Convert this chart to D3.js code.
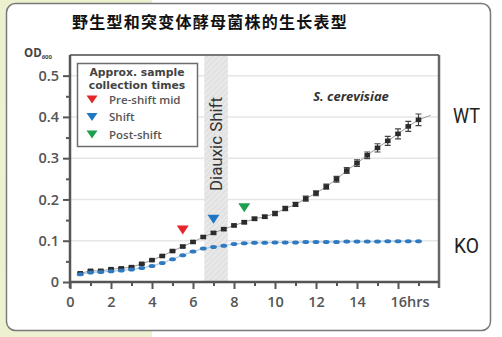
<!DOCTYPE html>
<html><head><meta charset="utf-8">
<script src="https://cdn.jsdelivr.net/npm/d3@7"></script>
<style>body{margin:0;background:#fff;}svg{display:block;}</style>
</head><body>
<script>
// ---- data ----
const hours = [0.5,1,1.5,2,2.5,3,3.5,4,4.5,5,5.5,6,6.5,7,7.5,8,8.5,9,9.5,10,10.5,11,11.5,12,12.5,13,13.5,14,14.5,15,15.5,16,16.5,17];
const wtOD = [0.021,0.027,0.027,0.031,0.033,0.036,0.044,0.053,0.063,0.075,0.086,0.097,0.109,0.119,0.128,0.137,0.145,0.153,0.158,0.166,0.178,0.188,0.202,0.215,0.231,0.249,0.270,0.288,0.307,0.325,0.342,0.359,0.377,0.393];
const wtErr = [0.002,0.002,0.002,0.002,0.002,0.002,0.002,0.002,0.002,0.002,0.003,0.003,0.003,0.003,0.003,0.003,0.004,0.004,0.004,0.005,0.005,0.005,0.006,0.006,0.006,0.007,0.007,0.008,0.008,0.010,0.011,0.012,0.012,0.014];
const koOD = [0.019,0.023,0.024,0.026,0.028,0.030,0.034,0.039,0.046,0.055,0.065,0.074,0.081,0.085,0.088,0.092,0.094,0.095,0.095,0.096,0.096,0.096,0.097,0.097,0.097,0.097,0.098,0.098,0.098,0.098,0.099,0.099,0.099,0.099];
const wtTrendEnd = [17.6, 0.404];
const legendTitle = ["Approx. sample", "collection times"];
const sampleLabels = ["Pre-shift mid","Shift","Post-shift"];
const sampleColors = ["#e4262b","#1f77c4","#1e9e4f"];
const sampleHours = [5.5, 7, 8.5];
const sampleOD = [0.126, 0.152, 0.180];
const shiftBand = [6.55, 7.7];
const xTicks = [0,2,4,6,8,10,12,14,16];
const xTickLabels = ["0","2","4","6","8","10","12","14","16hrs"];
const yTicks = [0,0.1,0.2,0.3,0.4,0.5];
const yTickLabels = ["0","0.1","0.2","0.3","0.4","0.5"];
const title = "野生型和突变体酵母菌株的生长表型";

// ---- layout ----
const W = 502, H = 337;
const svg = d3.select("body").append("svg").attr("width", W).attr("height", H);
const x = d3.scaleLinear().domain([0, 18]).range([70, 439]);
const y = d3.scaleLinear().domain([0, 0.55]).range([282, 55]);

svg.append("rect").attr("width", W).attr("height", H).attr("fill", "#fff");
svg.append("rect").attr("x", 0).attr("y", 0).attr("width", 152).attr("height", H).attr("fill", "#eef1cf");
svg.append("rect").attr("x", 6.5).attr("y", 3.5).attr("width", 484).attr("height", 327).attr("rx", 9)
  .attr("fill", "#fff").attr("stroke", "#7a7a7a").attr("stroke-width", 1.5);

// title
svg.append("text").attr("x", 72).attr("y", 28).text(title)
  .attr("font-family", "'Noto Sans CJK SC'").attr("font-weight", 700).attr("font-size", 16)
  .attr("letter-spacing", 1.25).attr("fill", "#111");

// hatch pattern
const defs = svg.append("defs");
const pat = defs.append("pattern").attr("id", "hatch").attr("patternUnits", "userSpaceOnUse")
  .attr("width", 4).attr("height", 4).attr("patternTransform", "rotate(45)");
pat.append("rect").attr("width", 4).attr("height", 4).attr("fill", "#e2e2e2");
pat.append("line").attr("x1", 0).attr("y1", 0).attr("x2", 0).attr("y2", 4).attr("stroke", "#f1f1f1").attr("stroke-width", 1.5);

// gridlines
svg.append("g").selectAll("line").data(yTicks.slice(1)).join("line")
  .attr("x1", x(0)).attr("x2", x(18)).attr("y1", d => y(d)).attr("y2", d => y(d))
  .attr("stroke", "#e6e6e6").attr("stroke-width", 1.5);

// diauxic band
svg.append("rect").attr("x", x(shiftBand[0])).attr("width", x(shiftBand[1]) - x(shiftBand[0]))
  .attr("y", y(0.55)).attr("height", y(0) - y(0.55)).attr("fill", "url(#hatch)");
const bandCx = (x(shiftBand[0]) + x(shiftBand[1])) / 2;
svg.append("text").attr("transform", `translate(${bandCx + 6},${y(0.55) + 136}) rotate(-90)`)
  .text("Diauxic Shift").attr("font-family", "Roboto").attr("font-size", 17).attr("fill", "#333")
  .attr("textLength", 94).attr("lengthAdjust", "spacingAndGlyphs");

// frame
svg.append("line").attr("x1", x(0)).attr("x2", x(18)).attr("y1", y(0.55)).attr("y2", y(0.55)).attr("stroke", "#777").attr("stroke-width", 2);
svg.append("line").attr("x1", x(18)).attr("x2", x(18)).attr("y1", y(0.55)).attr("y2", y(0) + 6).attr("stroke", "#666").attr("stroke-width", 2.5);

// axes
const xMajor = d3.axisBottom(x).tickValues(xTicks).tickSize(7).tickFormat((d, i) => xTickLabels[i]);
const xMinor = d3.axisBottom(x).tickValues([1,3,5,7,9,11,13,15,17]).tickSize(4).tickFormat("");
const yMajor = d3.axisLeft(y).tickValues(yTicks).tickSize(7).tickFormat((d, i) => yTickLabels[i]);
const yMinor = d3.axisLeft(y).tickValues([0.05,0.15,0.25,0.35,0.45]).tickSize(4).tickFormat("");
function styleAxis(g) {
  g.select(".domain").remove();
  g.selectAll(".tick line").attr("stroke", "#555").attr("stroke-width", 2);
  g.selectAll("text").attr("font-family", "'Open Sans'").attr("font-weight", 600).attr("font-size", 14.5).attr("fill", "#555");
}
const gx = svg.append("g").attr("transform", `translate(0,${y(0)})`).call(xMajor).call(styleAxis);
gx.selectAll("text").attr("dy", "1.05em");
gx.selectAll(".tick").filter(d => d === 16).select("text").attr("text-anchor", "start").attr("dx", -8);
svg.append("g").attr("transform", `translate(0,${y(0)})`).call(xMinor).call(styleAxis);
const gy = svg.append("g").attr("transform", `translate(${x(0)},0)`).call(yMajor).call(styleAxis);
gy.selectAll("text").attr("dx", -1);
svg.append("g").attr("transform", `translate(${x(0)},0)`).call(yMinor).call(styleAxis);
svg.append("line").attr("x1", x(0)).attr("x2", x(18)).attr("y1", y(0)).attr("y2", y(0)).attr("stroke", "#555").attr("stroke-width", 2.5);
svg.append("line").attr("x1", x(0)).attr("x2", x(0)).attr("y1", y(0.55)).attr("y2", y(0) + 6).attr("stroke", "#555").attr("stroke-width", 2.5);

// OD600 label
const od = svg.append("text").attr("x", 24).attr("y", 57).attr("font-family", "'Open Sans'").attr("font-weight", 700).attr("fill", "#444");
od.append("tspan").text("OD").attr("font-size", 11.5);
od.append("tspan").text("600").attr("font-size", 6).attr("dy", 2);

// WT line + trend
const wtPts = hours.map((h, i) => [h, wtOD[i]]);
const koPts = hours.map((h, i) => [h, koOD[i]]);
const line = d3.line().x(d => x(d[0])).y(d => y(d[1]));
svg.append("path").datum(wtPts.concat([wtTrendEnd])).attr("d", line).attr("fill", "none").attr("stroke", "#9a9a9a").attr("stroke-width", 1);
svg.append("path").datum(koPts).attr("d", line).attr("fill", "none").attr("stroke", "#a9cdee").attr("stroke-width", 1.2);

// WT error bars & markers
const wg = svg.append("g");
wg.selectAll("line.err").data(wtPts).join("line").attr("class", "err")
  .attr("x1", d => x(d[0])).attr("x2", d => x(d[0]))
  .attr("y1", (d, i) => y(d[1] + wtErr[i])).attr("y2", (d, i) => y(d[1] - wtErr[i]))
  .attr("stroke", "#444").attr("stroke-width", 1.2);
wg.selectAll("path.cap").data(wtPts).join("path").attr("class", "cap")
  .attr("d", (d, i) => {
    const cx = x(d[0]), t = y(d[1] + wtErr[i]), b = y(d[1] - wtErr[i]);
    return `M${cx - 3},${t}H${cx + 3}M${cx - 3},${b}H${cx + 3}`;
  }).attr("stroke", "#444").attr("stroke-width", 1.2);
wg.selectAll("rect").data(wtPts).join("rect")
  .attr("x", d => x(d[0]) - 2.8).attr("y", d => y(d[1]) - 2.3).attr("width", 5.6).attr("height", 4.6)
  .attr("fill", "#2b2b2b");

// KO markers
svg.append("g").selectAll("ellipse").data(koPts).join("ellipse")
  .attr("cx", d => x(d[0])).attr("cy", d => y(d[1])).attr("rx", 3.4).attr("ry", 2)
  .attr("fill", "#2f79bf");

// sample triangles in plot
const tri = (cx, cy, w, h) => `M${cx - w / 2},${cy - h / 2}L${cx + w / 2},${cy - h / 2}L${cx},${cy + h / 2}Z`;
svg.append("g").selectAll("path").data(sampleHours).join("path")
  .attr("d", (d, i) => tri(x(d), y(sampleOD[i]), 12, 9)).attr("fill", (d, i) => sampleColors[i]);

// legend
const lg = svg.append("g");
lg.append("rect").attr("x", 77.5).attr("y", 63.5).attr("width", 120).attr("height", 83)
  .attr("fill", "#fff").attr("stroke", "#6d6d6d").attr("stroke-width", 1.5);
lg.selectAll("text.t").data(legendTitle).join("text").attr("class", "t")
  .attr("x", 137).attr("y", (d, i) => 75.5 + i * 13).attr("text-anchor", "middle").text(d => d)
  .attr("font-family", "'DejaVu Sans'").attr("font-weight", 700).attr("font-size", 10.8).attr("fill", "#444");
lg.selectAll("path").data(sampleLabels).join("path")
  .attr("d", (d, i) => tri(92, 99.5 + i * 17.5, 11, 8)).attr("fill", (d, i) => sampleColors[i]);
lg.selectAll("text.i").data(sampleLabels).join("text").attr("class", "i")
  .attr("x", 109).attr("y", (d, i) => 103.5 + i * 17.5).text(d => d)
  .attr("font-family", "'Open Sans'").attr("font-weight", 600).attr("font-size", 11.5).attr("fill", "#555");

// species label
svg.append("text").attr("x", 351).attr("y", 101).attr("text-anchor", "middle").text("S. cerevisiae")
  .attr("font-family", "'Open Sans'").attr("font-weight", 700).attr("font-style", "italic").attr("font-size", 13).attr("fill", "#333");

// WT / KO
svg.append("text").attr("x", 453).attr("y", 123).text("WT").attr("font-family", "Roboto").attr("font-size", 21)
  .attr("fill", "#222").attr("textLength", 27).attr("lengthAdjust", "spacingAndGlyphs");
svg.append("text").attr("x", 454).attr("y", 253).text("KO").attr("font-family", "Roboto").attr("font-size", 21)
  .attr("fill", "#222").attr("textLength", 25).attr("lengthAdjust", "spacingAndGlyphs");
</script>
</body></html>
